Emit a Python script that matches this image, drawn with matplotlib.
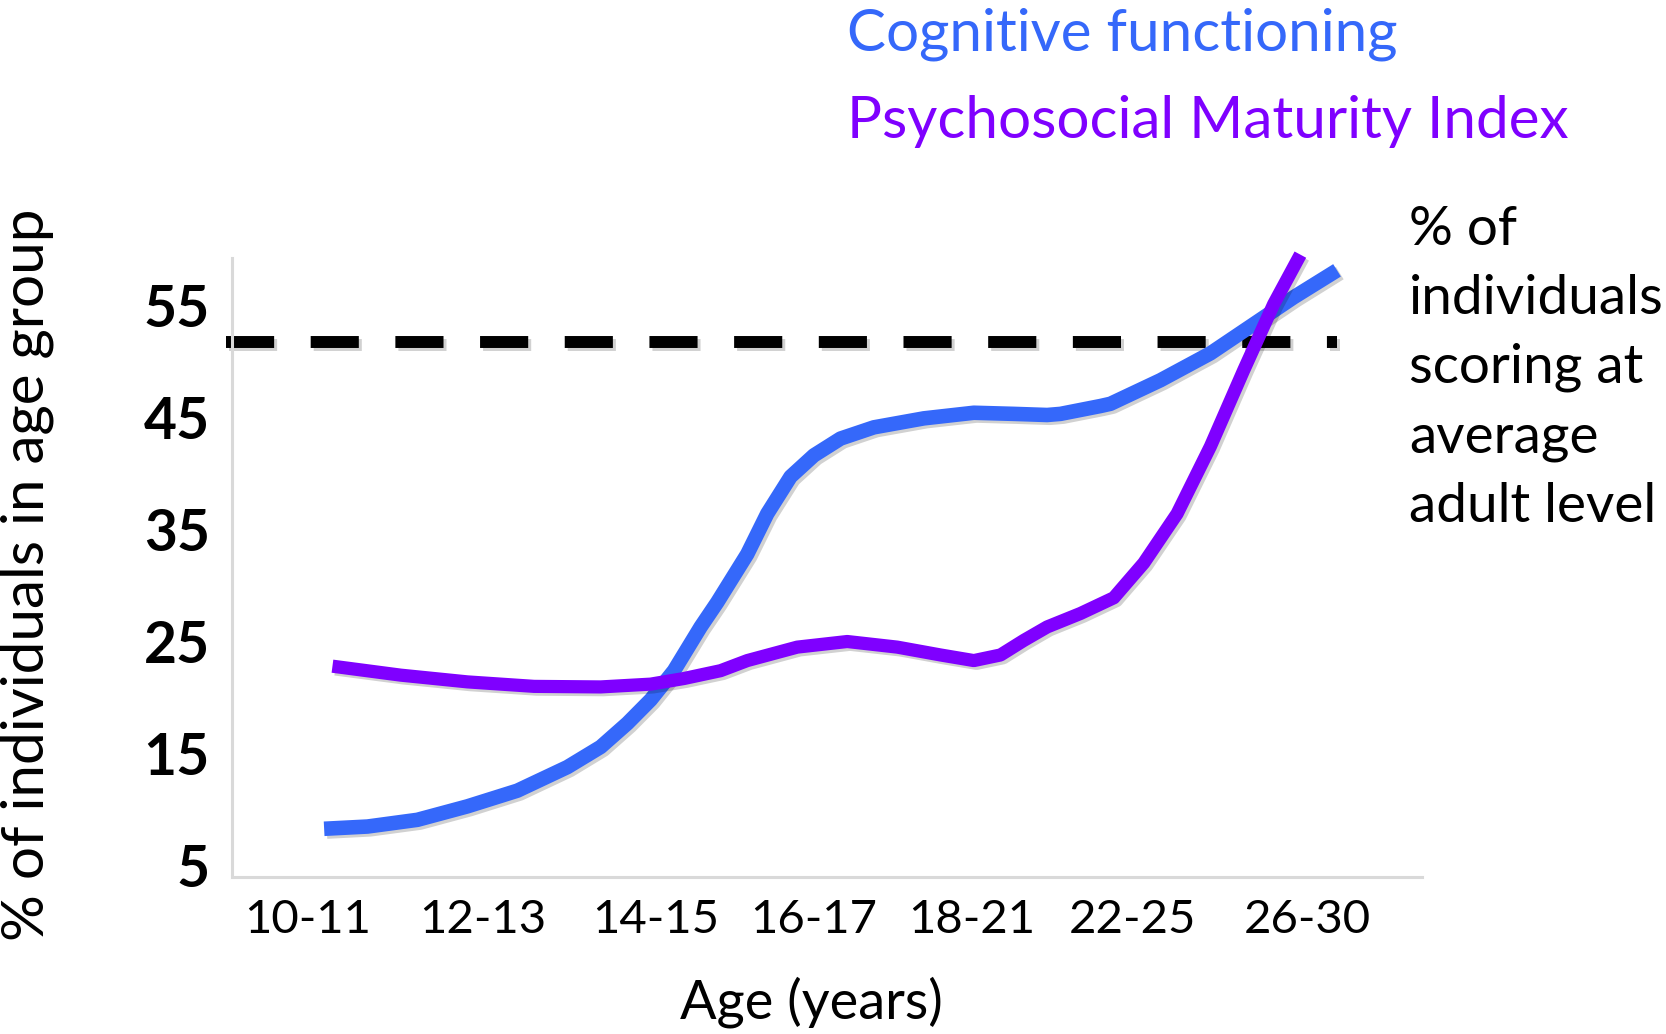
import matplotlib
matplotlib.use("Agg")
import matplotlib.pyplot as plt
import matplotlib.patheffects as pe

plt.rcParams['font.family'] = ['Lato', 'DejaVu Sans']

# ---- data ----
age_groups = ["10-11", "12-13", "14-15", "16-17", "18-21", "22-25", "26-30"]
y_ticks = [5, 15, 25, 35, 45, 55]

cog_x = [0.10, 0.36, 0.66, 0.96, 1.26, 1.56, 1.76, 1.92, 2.06, 2.20, 2.36, 2.46,
         2.64, 2.76, 2.90, 3.04, 3.20, 3.40, 3.70, 4.00, 4.24, 4.44, 4.52, 4.76,
         4.82, 5.12, 5.42, 5.72, 5.92, 6.18]
cog_y = [8.3, 8.5, 9.1, 10.3, 11.7, 13.8, 15.6, 17.7, 19.8, 22.4, 26.3, 28.5,
         32.8, 36.4, 39.7, 41.6, 43.1, 44.1, 44.9, 45.4, 45.3, 45.2, 45.3, 46.0,
         46.2, 48.3, 50.7, 53.7, 55.7, 58.1]

psy_x = [0.15, 0.56, 0.96, 1.36, 1.76, 2.06, 2.26, 2.48, 2.64, 2.94, 3.24, 3.54,
         3.80, 4.00, 4.16, 4.30, 4.44, 4.64, 4.84, 5.02, 5.22, 5.42, 5.62, 5.80, 5.96]
psy_y = [22.8, 22.0, 21.4, 21.0, 20.95, 21.2, 21.7, 22.4, 23.3, 24.5, 25.0, 24.5,
         23.8, 23.3, 23.8, 25.1, 26.3, 27.5, 28.9, 32.0, 36.4, 42.4, 49.2, 55.1, 59.5]

adult_level = 51.7
adult_x = [-0.49, 6.18]

series_names = ["Cognitive functioning", "Psychosocial Maturity Index"]
side_note = "% of\nindividuals\nscoring at\naverage\nadult level"
x_title = "Age (years)"
y_title = "% of individuals in age group"

# layout: where the category labels sit along the x axis (slightly uneven in the original)
tick_pos = [0.0, 1.05, 2.09, 3.04, 3.99, 4.95, 6.0]

BLUE = "#3568FA"
PURPLE = "#7F00FF"

W, H = 1666, 1034
fig = plt.figure(figsize=(W / 100, H / 100), dpi=100)
ax = fig.add_axes([232 / W, 1 - 877 / H, (1422 - 232) / W, (877 - 258) / H])

ax.set_xlim(-0.453, 6.69)
ax.set_ylim(4.0, 59.2)

shadow = [pe.SimpleLineShadow(offset=(2, -2), shadow_color="#000000", alpha=0.18), pe.Normal()]

ax.plot(adult_x, [adult_level, adult_level], color="black", lw=8.6,
        linestyle=(0, (4.03, 3.06)), solid_capstyle="butt", dash_capstyle="butt",
        clip_on=False, zorder=2, path_effects=shadow)
ax.plot(cog_x, cog_y, color=BLUE, lw=10.5, solid_capstyle="butt",
        solid_joinstyle="round", clip_on=False, zorder=3, path_effects=shadow)
ax.plot(psy_x, psy_y, color=PURPLE, lw=9.5, solid_capstyle="butt",
        solid_joinstyle="round", clip_on=False, zorder=4, path_effects=shadow)

ax.set_xticks(tick_pos)
ax.set_xticklabels(age_groups, fontsize=34)
ax.set_yticks(y_ticks)
ax.set_yticklabels([str(v) for v in y_ticks], fontsize=41, fontweight="bold")
ax.tick_params(axis="both", length=0)
ax.tick_params(axis="y", pad=16)
ax.tick_params(axis="x", pad=16)

for s in ["top", "right"]:
    ax.spines[s].set_visible(False)
for s in ["left", "bottom"]:
    ax.spines[s].set_color("#d9d9d9")
    ax.spines[s].set_linewidth(2.2)

fig.text(27 / W, 1 - 575 / H, y_title, rotation=90, ha="center", va="center", fontsize=42)
fig.text(811 / W, 1 - 1002 / H, x_title, ha="center", va="center", fontsize=39)

fig.text(847 / W, 1 - 34 / H, series_names[0], color=BLUE, ha="left", va="center", fontsize=42)
fig.text(847 / W, 1 - 122 / H, series_names[1], color=PURPLE, ha="left", va="center", fontsize=42)

fig.text(1409 / W, 1 - 205 / H, side_note, ha="left", va="top", fontsize=39.5, linespacing=1.5)

fig.savefig("out.png", dpi=100, facecolor="white")
